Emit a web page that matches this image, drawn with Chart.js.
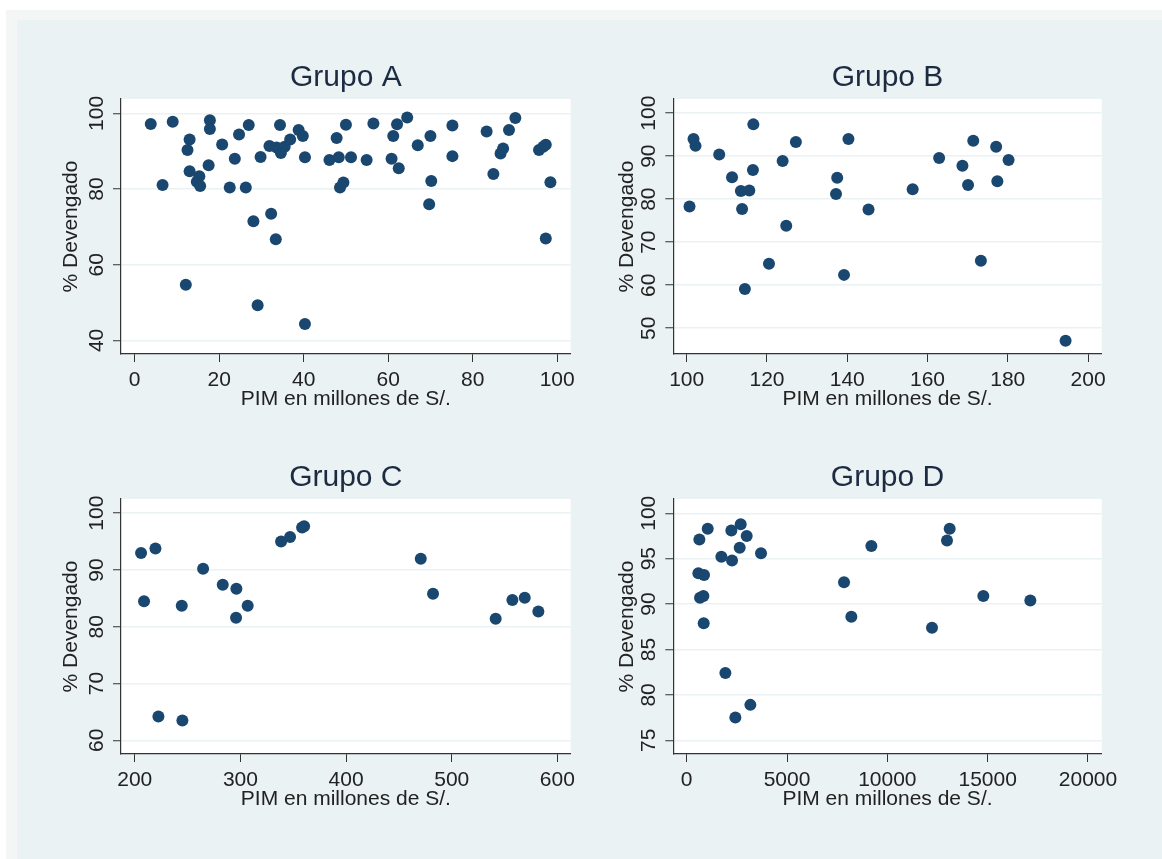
<!DOCTYPE html>
<html>
<head>
<meta charset="utf-8">
<script src="https://cdn.jsdelivr.net/npm/chart.js@4.4.1/dist/chart.umd.min.js"></script>
<style>
  html, body { margin: 0; padding: 0; background: #ffffff; }
  body { width: 1162px; height: 859px; position: relative; overflow: hidden; }
  #frame { position: absolute; left: 6px; top: 10px; right: 0; bottom: 0; background: #f4f6f6; }
  #bg { position: absolute; left: 17px; top: 20px; right: 0; bottom: 0; background: #eaf2f3; }
  canvas { position: absolute; }
</style>
</head>
<body>
<div id="frame"></div>
<div id="bg"></div>
<canvas id="chart-a" width="580" height="420" style="left:17px;top:20px"></canvas>
<canvas id="chart-b" width="560" height="420" style="left:590px;top:20px"></canvas>
<canvas id="chart-c" width="580" height="420" style="left:17px;top:420px"></canvas>
<canvas id="chart-d" width="560" height="420" style="left:590px;top:420px"></canvas>
<script>
// PIM (millones de S/.) and % devengado
const pimA = [3.8, 6.6, 9.0, 12.1, 12.5, 13.0, 13.0, 14.7, 15.3, 15.5, 17.5, 17.8, 17.8, 20.7, 22.5,
  23.7, 24.7, 26.3, 27.0, 28.1, 29.1, 29.8, 31.9, 32.3, 33.4, 33.6, 34.4, 34.6, 35.5, 36.8, 38.8,
  39.8, 40.3, 40.3, 46.1, 47.8, 48.3, 48.6, 49.4, 50.0, 51.2, 54.9, 56.5, 60.8, 61.2, 62.1, 62.5,
  64.5, 67.0, 69.7, 70.0, 70.2, 75.2, 75.2, 83.3, 84.9, 86.6, 87.2, 88.6, 90.1, 95.7, 96.7, 97.3,
  97.3, 98.4];
const devA = [97.2, 81.1, 97.8, 54.7, 90.3, 93.1, 84.7, 81.9, 83.4, 80.8, 86.3, 98.2, 95.9, 91.8, 80.4,
  88.0, 94.4, 80.4, 96.9, 71.5, 49.3, 88.5, 91.4, 73.5, 66.7, 91.0, 96.9, 89.5, 91.2, 93.1, 95.6,
  94.0, 88.4, 44.3, 87.7, 93.5, 88.4, 80.4, 81.7, 97.0, 88.4, 87.7, 97.3, 88.0, 94.0, 97.1, 85.5,
  98.9, 91.6, 76.0, 94.0, 82.1, 96.8, 88.7, 95.2, 84.0, 89.4, 90.7, 95.6, 98.8, 90.3, 91.2, 91.7,
  66.9, 81.8];

const pimB = [100.7, 101.7, 102.2, 108.1, 111.3, 113.5, 113.8, 115.6, 114.5, 116.6, 116.5, 120.5,
  123.9, 124.8, 127.2, 137.2, 137.5, 139.2, 140.3, 145.3, 156.3, 162.9, 168.7, 170.1, 171.4,
  173.3, 177.1, 177.4, 180.2, 194.4];
const devB = [78.3, 94.0, 92.4, 90.4, 85.1, 81.9, 77.7, 82.0, 59.1, 97.4, 86.8, 65.0,
  88.9, 73.8, 93.3, 81.2, 85.0, 62.4, 94.0, 77.6, 82.3, 89.6, 87.8, 83.3, 93.6,
  65.7, 92.2, 84.2, 89.1, 47.1];

const pimC = [206.0, 208.8, 219.6, 222.4, 244.5, 245.1, 264.7, 283.3, 296.2, 295.9, 306.9,
  338.5, 347.0, 358.4, 360.3, 470.7, 482.3, 541.6, 557.4, 569.1, 582.0];
const devC = [93.0, 84.5, 93.8, 64.2, 83.7, 63.5, 90.2, 87.4, 86.7, 81.6, 83.7,
  95.0, 95.8, 97.5, 97.7, 92.0, 85.8, 81.4, 84.7, 85.1, 82.7];

const pimD = [581, 631, 664, 831, 864, 847, 1047, 1728, 1927, 2226, 2259, 2425, 2641, 2691,
  2990, 3173, 3704, 7841, 8206, 9203, 12226, 12973, 13106, 14784, 17126];
const devD = [93.4, 97.1, 90.7, 90.9, 93.2, 87.9, 98.3, 95.2, 82.4, 98.1, 94.8, 77.5, 96.2, 98.8,
  97.5, 78.9, 95.6, 92.4, 88.6, 96.4, 87.4, 97.0, 98.3, 90.9, 90.4];

const xTicksA = [0, 20, 40, 60, 80, 100];
const yTicksA = [40, 60, 80, 100];
const xTicksB = [100, 120, 140, 160, 180, 200];
const yTicksB = [50, 60, 70, 80, 90, 100];
const xTicksC = [200, 300, 400, 500, 600];
const yTicksC = [60, 70, 80, 90, 100];
const xTicksD = [0, 5000, 10000, 15000, 20000];
const yTicksD = [75, 80, 85, 90, 95, 100];

const FONT = "'Liberation Sans', Arial, sans-serif";
const NAVY = '#1a476f';
const AXIS = '#333333';

const plotBackground = {
  id: 'plotBackground',
  beforeDraw(chart) {
    const { ctx, chartArea: a } = chart;
    ctx.save();
    ctx.fillStyle = '#ffffff';
    ctx.fillRect(a.left, a.top, a.right - a.left, a.bottom - a.top);
    ctx.restore();
  }
};

function makeChart(canvasId, title, xs, ys, xTicks, yTicks, xRange, yRange, padL, padR, yWidth) {
  const ctx = document.getElementById(canvasId).getContext('2d');
  return new Chart(ctx, {
    type: 'scatter',
    data: {
      datasets: [{
        data: xs.map((x, i) => ({ x, y: ys[i] })),
        backgroundColor: NAVY,
        borderColor: NAVY,
        borderWidth: 0,
        pointRadius: 6,
        pointHoverRadius: 6
      }]
    },
    options: {
      responsive: false,
      animation: false,
      events: [],
      layout: { padding: { left: padL, right: padR, top: 0, bottom: 0 } },
      plugins: {
        legend: { display: false },
        tooltip: { enabled: false },
        title: {
          display: true,
          text: title,
          fullSize: false,
          color: '#1c2a42',
          font: { family: FONT, size: 30, weight: 'normal' },
          padding: { top: 40, bottom: 3 }
        }
      },
      scales: {
        x: {
          type: 'linear',
          min: xRange[0],
          max: xRange[1],
          afterBuildTicks: s => { s.ticks = xTicks.map(v => ({ value: v })); },
          afterFit: s => { s.height = 86; },
          grid: { drawOnChartArea: false, tickColor: AXIS, tickLength: 8, tickWidth: 1 },
          border: { color: AXIS, width: 1.2 },
          ticks: {
            color: '#222222',
            font: { family: FONT, size: 21 },
            padding: 6,
            maxRotation: 0,
            autoSkip: false,
            callback: v => String(v)
          },
          title: {
            display: true,
            text: 'PIM en millones de S/.',
            color: '#222222',
            font: { family: FONT, size: 21 },
            padding: { top: 0, bottom: 28 }
          }
        },
        y: {
          type: 'linear',
          min: yRange[0],
          max: yRange[1],
          afterBuildTicks: s => { s.ticks = yTicks.map(v => ({ value: v })); },
          afterFit: s => { s.width = yWidth; },
          grid: { color: '#eaf2f3', lineWidth: 1.5, tickColor: AXIS, tickLength: 8, tickWidth: 1 },
          border: { color: AXIS, width: 1.2 },
          ticks: {
            color: '#222222',
            font: { family: FONT, size: 21 },
            padding: -1.8,
            minRotation: 90,
            maxRotation: 90,
            crossAlign: 'center',
            autoSkip: false,
            callback: v => String(v)
          },
          title: {
            display: true,
            text: '% Devengado',
            color: '#222222',
            font: { family: FONT, size: 21 },
            padding: { top: 0, bottom: 0 }
          }
        }
      }
    },
    plugins: [plotBackground]
  });
}

makeChart('chart-a', 'Grupo A', pimA, devA, xTicksA, yTicksA, [-3.24, 103.2], [36.4, 103.8], 42.1, 26.3, 61.9);
makeChart('chart-b', 'Grupo B', pimB, devB, xTicksB, yTicksB, [96.66, 203.4], [44.0, 103.3], 24.4, 48.3, 58.9);
makeChart('chart-c', 'Grupo C', pimC, devC, xTicksC, yTicksC, [187.0, 612.6], [57.6, 102.5], 42.1, 26.3, 61.9);
makeChart('chart-d', 'Grupo D', pimD, devD, xTicksD, yTicksD, [-668, 20683], [73.49, 101.57], 24.4, 48.3, 58.9);
</script>
</body>
</html>
